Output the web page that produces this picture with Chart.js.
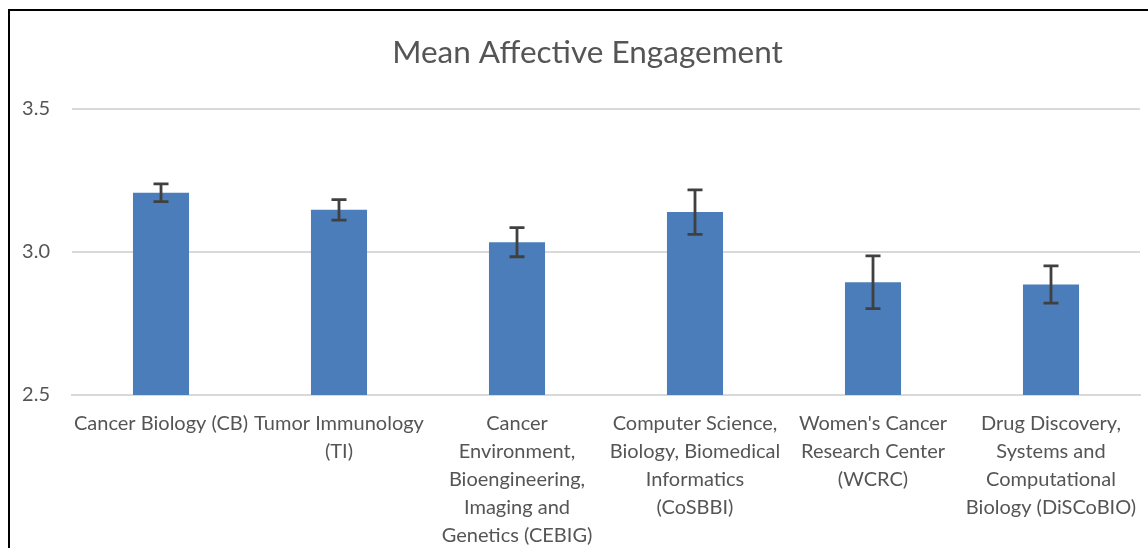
<!DOCTYPE html>
<html>
<head>
<meta charset="utf-8">
<script src="https://cdn.jsdelivr.net/npm/chart.js@4.4.1/dist/chart.umd.min.js"></script>
<style>
  html, body { margin: 0; padding: 0; background: #fff; overflow: hidden; width: 1148px; height: 548px; }
  #wrap { position: absolute; left: 0; top: 0; width: 1172px; height: 548px; }
  #frame { position: absolute; left: 8px; top: 9px; width: 2000px; height: 2000px;
           border-left: 2px solid #000; border-top: 2px solid #000; pointer-events: none; }
</style>
</head>
<body>
<div id="wrap"><canvas id="c" width="1172" height="548"></canvas></div>
<div id="frame"></div>
<script>
const chartTitle = "Mean Affective Engagement";
const categories = [
  ["Cancer Biology (CB)"],
  ["Tumor Immunology", "(TI)"],
  ["Cancer", "Environment,", "Bioengineering,", "Imaging and", "Genetics (CEBIG)"],
  ["Computer Science,", "Biology, Biomedical", "Informatics", "(CoSBBI)"],
  ["Women's Cancer", "Research Center", "(WCRC)"],
  ["Drug Discovery,", "Systems and", "Computational", "Biology (DiSCoBIO)"]
];
const meanValues = [3.207, 3.147, 3.034, 3.139, 2.894, 2.886];
const errorValues = [0.031, 0.036, 0.051, 0.078, 0.092, 0.065];
const yMin = 2.5, yMax = 3.5, yStep = 0.5;

const FONT = "Lato, 'Open Sans', sans-serif";
const TEXT = "#555555";

const errorBarPlugin = {
  id: 'errorBars',
  afterDatasetsDraw(chart) {
    const ctx = chart.ctx;
    const meta = chart.getDatasetMeta(0);
    const y = chart.scales.y;
    ctx.save();
    ctx.strokeStyle = "#404040";
    ctx.lineWidth = 2.8;
    meta.data.forEach((bar, i) => {
      const x = bar.x;
      const yt = y.getPixelForValue(meanValues[i] + errorValues[i]);
      const yb = y.getPixelForValue(meanValues[i] - errorValues[i]);
      const cap = 7.5;
      ctx.beginPath();
      ctx.moveTo(x, yt); ctx.lineTo(x, yb);
      ctx.moveTo(x - cap, yt); ctx.lineTo(x + cap, yt);
      ctx.moveTo(x - cap, yb); ctx.lineTo(x + cap, yb);
      ctx.stroke();
    });
    ctx.restore();
  }
};

new Chart(document.getElementById('c'), {
  type: 'bar',
  data: {
    labels: categories,
    datasets: [{
      data: meanValues,
      backgroundColor: "#4A7DBA",
      borderWidth: 0,
      barPercentage: 0.315,
      categoryPercentage: 1.0
    }]
  },
  plugins: [errorBarPlugin],
  options: {
    responsive: false,
    animation: false,
    layout: { padding: { left: 12, right: 9, top: 0, bottom: 0 } },
    plugins: {
      legend: { display: false },
      tooltip: { enabled: false },
      title: {
        display: true,
        text: chartTitle,
        color: TEXT,
        font: { family: FONT, size: 31.5, weight: 'normal', lineHeight: 1.2 },
        padding: { top: 34, bottom: 37 }
      }
    },
    scales: {
      x: {
        grid: { display: false, drawTicks: false },
        border: { display: true, color: "#d9d9d9", width: 2 },
        ticks: {
          color: TEXT,
          font: { family: FONT, size: 20, lineHeight: 28 / 20 },
          padding: 15,
          maxRotation: 0, minRotation: 0, autoSkip: false
        },
        afterFit(s) { s.height = 548 - 395; }
      },
      y: {
        min: yMin, max: yMax,
        grid: { color: "#d9d9d9", lineWidth: 2, drawTicks: false },
        border: { display: false },
        ticks: {
          stepSize: yStep,
          color: TEXT,
          font: { family: FONT, size: 20 },
          padding: 22,
          callback: v => v.toFixed(1)
        },
        afterFit(s) { s.width = 60; }
      },
      y2: {
        position: 'right',
        display: true,
        grid: { display: false, drawTicks: false },
        border: { display: false },
        ticks: { display: false },
        afterFit(s) { s.width = 23; }
      }
    }
  }
});
</script>
</body>
</html>
